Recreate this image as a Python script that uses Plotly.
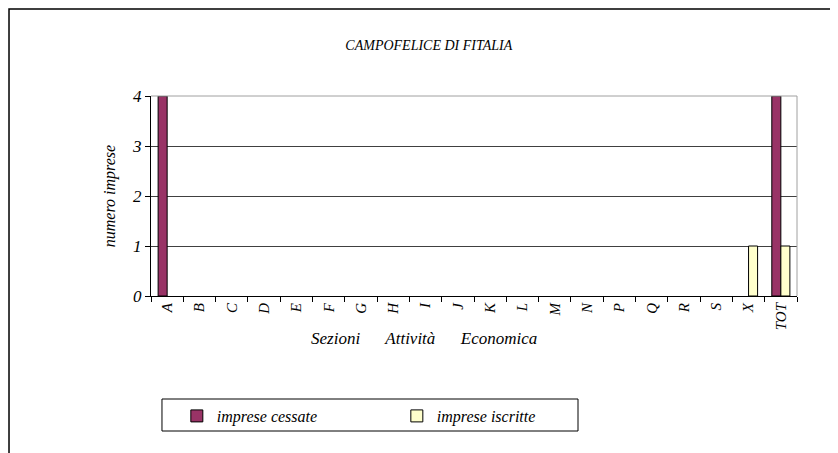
import plotly.graph_objects as go

sezioni = ["A", "B", "C", "D", "E", "F", "G", "H", "I", "J", "K", "L",
           "M", "N", "P", "Q", "R", "S", "X", "TOT"]
cessate = [4, 0, 0, 0, 0, 0, 0, 0, 0, 0, 0, 0, 0, 0, 0, 0, 0, 0, 0, 4]
iscritte = [0, 0, 0, 0, 0, 0, 0, 0, 0, 0, 0, 0, 0, 0, 0, 0, 0, 0, 1, 1]
y_ticks = [0, 1, 2, 3, 4]

SERIF = "Liberation Serif"

fig = go.Figure()
# zero values are left out so no empty outline is drawn on the base line
fig.add_trace(go.Bar(x=sezioni, y=[v if v else None for v in cessate], name="imprese cessate",
                     marker=dict(color="#993366", line=dict(color="black", width=1)),
                     cliponaxis=False))
fig.add_trace(go.Bar(x=sezioni, y=[v if v else None for v in iscritte], name="imprese iscritte",
                     marker=dict(color="#FFFFCC", line=dict(color="black", width=1)),
                     cliponaxis=False))

# chart frame, plot border (top/right) and legend box
fig.add_shape(type="rect", xref="paper", yref="paper",
              x0=-0.2198, x1=1.0573, y0=-0.9, y1=1.435,
              line=dict(color="black", width=1.5), layer="below")
fig.add_shape(type="path", xref="paper", yref="paper",
              path="M 0,1 L 1,1 L 1,0", line=dict(color="#a0a0a0", width=1))
fig.add_shape(type="rect", xref="paper", yref="paper",
              x0=0.017, x1=0.661, y0=-0.515, y1=-0.675,
              line=dict(color="black", width=1))

fig.add_annotation(text="Sezioni      Attività      Economica", xref="paper", yref="paper",
                   x=(424 - 151) / 646, y=-0.27, showarrow=False,
                   font=dict(family=SERIF, size=17, color="black", style="italic"))

# the page body adds 8px around the figure, so the figure is 8px smaller
fig.update_layout(
    width=830, height=445,
    margin=dict(l=143, r=41, t=88, b=157, autoexpand=False),
    paper_bgcolor="white", plot_bgcolor="white",
    barmode="group", bargap=0.44, bargroupgap=0,
    title=dict(text="CAMPOFELICE DI FITALIA", x=0.507, xref="container",
               y=1 - 37 / 445, yref="container", yanchor="middle",
               font=dict(family=SERIF, size=14, color="black", style="italic")),
    font=dict(family=SERIF, color="black", style="italic"),
    legend=dict(orientation="h", x=0.04, y=-0.515, xanchor="left", yanchor="top",
                bgcolor="rgba(0,0,0,0)", entrywidth=175, entrywidthmode="pixels",
                font=dict(family=SERIF, size=16, color="black", style="italic")),
    showlegend=True,
)
fig.update_xaxes(type="category", showline=True, linecolor="black", linewidth=1,
                 ticks="outside", tickson="boundaries", ticklen=5, tickcolor="black",
                 tickangle=-90, showgrid=False, automargin=False,
                 tickfont=dict(family=SERIF, size=15, color="black", style="italic"))
fig.update_yaxes(range=[0, 4], tickvals=y_ticks, showline=True, linecolor="black",
                 linewidth=1, ticks="outside", ticklen=5, tickcolor="black",
                 showgrid=True, gridcolor="#404040", gridwidth=1, zeroline=False,
                 automargin=False,
                 title=dict(text="numero imprese", standoff=12,
                            font=dict(family=SERIF, size=16, color="black", style="italic")),
                 tickfont=dict(family=SERIF, size=17, color="black", style="italic"))

fig.write_html("out.html")
